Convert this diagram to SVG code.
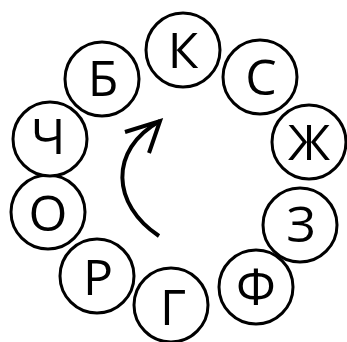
<svg xmlns="http://www.w3.org/2000/svg" width="347" height="342" viewBox="0 0 347 342">
<style>
.n circle{fill:#fff;stroke:#000;stroke-width:3}
.n text{font-family:"Open Sans","DejaVu Sans",sans-serif;font-size:50px;text-anchor:middle;fill:#000}
.c path{fill:none;stroke:#000;stroke-width:4}
</style>
<rect width="347" height="342" fill="#fff"/>
<g class="c" id="connectors">
<path d="M159,236 C112,205 108,150 160,121"/>
<path d="M125,132 L160,121 L149,153" stroke-linejoin="miter"/>
</g>
<g class="n" id="n-k"><circle cx="183" cy="50" r="37"/><text x="183" y="68">К</text></g>
<g class="n" id="n-s"><circle cx="260" cy="77" r="37"/><text x="261" y="95">С</text></g>
<g class="n" id="n-zh"><circle cx="309" cy="142" r="37"/><text x="309" y="160">Ж</text></g>
<g class="n" id="n-z"><circle cx="300" cy="225" r="37"/><text x="301" y="242">З</text></g>
<g class="n" id="n-f"><circle cx="256" cy="287" r="37"/><text x="256" y="305">Ф</text></g>
<g class="n" id="n-g"><circle cx="171" cy="305" r="37"/><text x="173" y="325">Г</text></g>
<g class="n" id="n-r"><circle cx="97" cy="276" r="37"/><text x="98" y="295">Р</text></g>
<g class="n" id="n-o"><circle cx="48" cy="212" r="37"/><text x="48" y="231">О</text></g>
<g class="n" id="n-ch"><circle cx="50" cy="139" r="37"/><text x="48" y="154">Ч</text></g>
<g class="n" id="n-b"><circle cx="102" cy="79" r="37"/><text x="103" y="96">Б</text></g>
</svg>
